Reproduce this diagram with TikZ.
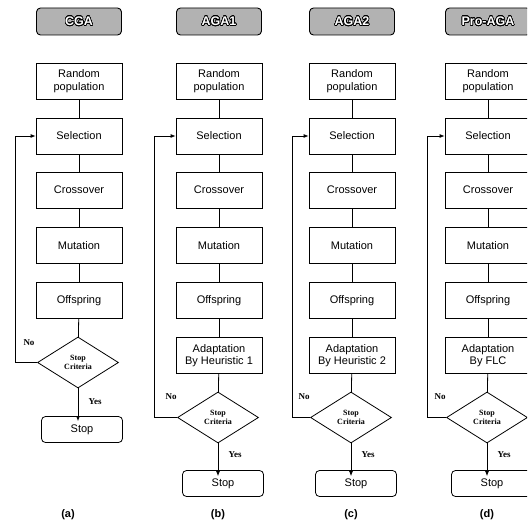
\documentclass[tikz,border=0pt]{standalone}
\usepackage{fontspec}
\setmainfont{Liberation Serif}
\setsansfont{Liberation Sans}
\usepackage{contour}
\contourlength{0.6pt}
\contournumber{24}
\usetikzlibrary{shapes.geometric,arrows.meta}
\tikzset{
  proc/.style={draw, line width=0.8pt, minimum width=86pt, minimum height=36pt, inner sep=1pt,
    font=\sffamily\fontsize{11}{12.5}\selectfont, align=center},
  hdr/.style={draw, line width=0.9pt, rounded corners=4pt, fill=gray!60, minimum width=85pt, minimum height=27pt,
    font=\sffamily\bfseries\fontsize{12.5}{13}\selectfont},
  stopbox/.style={draw, line width=0.8pt, rounded corners=4pt, minimum width=81pt, minimum height=26pt,
    font=\sffamily\fontsize{11}{12}\selectfont},
  decide/.style={draw, line width=0.8pt, diamond, minimum width=81pt, minimum height=51pt, inner sep=0pt,
    font=\rmfamily\bfseries\fontsize{8}{9}\selectfont, align=center},
  conn/.style={line width=0.8pt},
  backarrow/.style={line width=0.8pt, -{Latex[length=5pt,width=4pt]}},
  lab/.style={font=\rmfamily\bfseries\fontsize{9}{10}\selectfont},
  subcap/.style={font=\sffamily\bfseries\fontsize{11}{12}\selectfont}
}
\begin{document}
\begin{tikzpicture}[x=1pt,y=-1pt]
\useasboundingbox (0,0) rectangle (527,532);
\clip (0,0) rectangle (527,532);
\foreach \c/\x/\h/\lx in {a/79/CGA/15, b/219/AGA1/154, c/352/AGA2/292, d/488/Pro-AGA/427}{
  \node[hdr] (\c-h) at (\x,21.5) {\contour{black}{\textcolor{white}{\h}}};
  \node[proc] (\c-r) at (\x,81) {Random\\population};
  \node[proc] (\c-s) at (\x,136) {Selection};
  \node[proc] (\c-x) at (\x,190) {Crossover};
  \node[proc] (\c-m) at (\x,245.5) {Mutation};
  \node[proc] (\c-o) at (\x,300.5) {Offspring};
  \draw[conn] (\c-r) -- (\c-s);
  \draw[conn] (\c-s) -- (\c-x);
  \draw[conn] (\c-x) -- (\c-m);
  \draw[conn] (\c-m) -- (\c-o);
  \coordinate (\c-lp) at (\lx,0);
}
% column a
\node[decide] (a-d) at (78,362.5) {Stop\\Criteria};
\node[stopbox] (a-t) at (82,429.5) {Stop};
\draw[conn] (a-o) -- (a-d);
\draw[backarrow] (a-d.west) -| (a-lp |- a-s) -- (a-s.west);
\draw[backarrow] (a-d.south) -- ([yshift=-5pt]a-t.north -| a-d.south);
\node[lab] at (29,343) {No};
\node[lab] at (95,402) {Yes};
\node[subcap] at (68,515) {(a)};
% columns b, c, d
\foreach \c/\x/\t/\lbl in {b/219/Heuristic 1/(b), c/352/Heuristic 2/(c), d/488/FLC/(d)}{
  \node[proc] (\c-a) at (\x,355.5) {Adaptation\\By \t};
  \node[decide] (\c-d) at (\x-1,417.5) {Stop\\Criteria};
  \node[stopbox] (\c-t) at (\x+4,483.5) {Stop};
  \draw[conn] (\c-o) -- (\c-a);
  \draw[conn] (\c-a) -- (\c-d);
  \draw[backarrow] (\c-d.west) -| (\c-lp |- \c-s) -- (\c-s.west);
  \draw[backarrow] (\c-d.south) -- ([yshift=-6pt]\c-t.north -| \c-d.south);
  \node[lab] at (\x-48,397) {No};
  \node[lab] at (\x+16,455) {Yes};
  \node[subcap] at (\x-1,515) {\lbl};
}
\end{tikzpicture}
\end{document}
